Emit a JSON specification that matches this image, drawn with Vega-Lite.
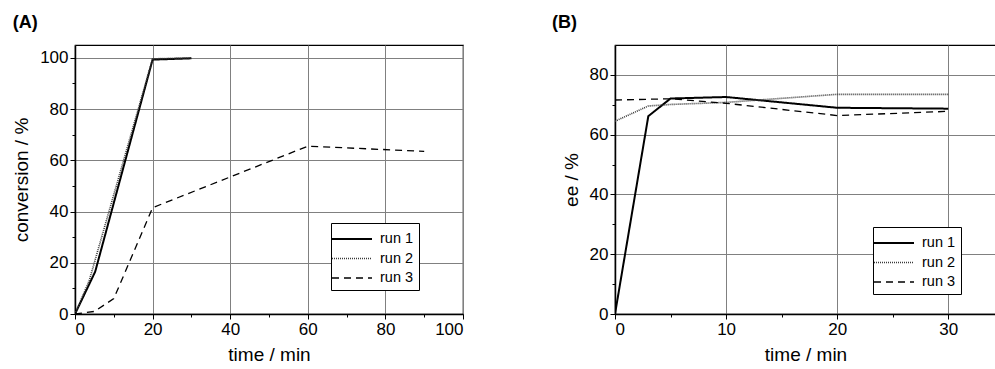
{
  "$schema": "https://vega.github.io/schema/vega-lite/v6.json",
  "padding": {"left": 12, "top": 13, "right": 0, "bottom": 0},
  "background": "white",
  "datasets": {
    "conv": [
      {"time": 0, "value": 0, "run": "run 1"},
      {"time": 5.2, "value": 16.5, "run": "run 1"},
      {"time": 20, "value": 99.3, "run": "run 1"},
      {"time": 30, "value": 99.8, "run": "run 1"},
      {"time": 0, "value": 0, "run": "run 2"},
      {"time": 3.7, "value": 13.2, "run": "run 2"},
      {"time": 20, "value": 99.6, "run": "run 2"},
      {"time": 30, "value": 100, "run": "run 2"},
      {"time": 0, "value": 0, "run": "run 3"},
      {"time": 5, "value": 1, "run": "run 3"},
      {"time": 10, "value": 6, "run": "run 3"},
      {"time": 20, "value": 41.5, "run": "run 3"},
      {"time": 60, "value": 65.5, "run": "run 3"},
      {"time": 90, "value": 63.5, "run": "run 3"}
    ],
    "ee": [
      {"time": 0, "value": 0, "run": "run 1"},
      {"time": 3, "value": 66.2, "run": "run 1"},
      {"time": 5, "value": 72.1, "run": "run 1"},
      {"time": 10, "value": 72.6, "run": "run 1"},
      {"time": 20, "value": 69, "run": "run 1"},
      {"time": 30, "value": 68.7, "run": "run 1"},
      {"time": 0, "value": 64.5, "run": "run 2"},
      {"time": 3, "value": 69.6, "run": "run 2"},
      {"time": 5, "value": 70.1, "run": "run 2"},
      {"time": 10, "value": 70.8, "run": "run 2"},
      {"time": 20, "value": 73.5, "run": "run 2"},
      {"time": 30, "value": 73.5, "run": "run 2"},
      {"time": 0, "value": 71.6, "run": "run 3"},
      {"time": 5, "value": 72, "run": "run 3"},
      {"time": 10, "value": 70.5, "run": "run 3"},
      {"time": 20, "value": 66.4, "run": "run 3"},
      {"time": 30, "value": 67.8, "run": "run 3"}
    ]
  },
  "config": {
    "font": "Liberation Sans",
    "view": {"stroke": "black", "strokeWidth": 1.2},
    "axis": {
      "domainColor": "black",
      "domainWidth": 1.5,
      "tickColor": "black",
      "gridColor": "#808080",
      "gridWidth": 1,
      "labelFontSize": 17,
      "labelColor": "black",
      "titleFontSize": 19,
      "titleFontWeight": "normal",
      "titleColor": "black",
      "labelPadding": 2
    },
    "legend": {
      "orient": "none",
      "strokeColor": "black",
      "fillColor": "white",
      "padding": 5,
      "symbolType": "M-2,0H2",
      "symbolSize": 400,
      "symbolOffset": 5,
      "labelFontSize": 14.5,
      "labelColor": "black",
      "rowPadding": 1.5,
      "labelOffset": 17,
      "title": null
    },
    "title": {"fontSize": 18, "fontWeight": "bold", "anchor": "start", "frame": "bounds", "color": "black"}
  },
  "hconcat": [
    {
      "title": {"text": "(A)", "offset": 13, "dx": 0},
      "width": 388,
      "height": 269,
      "data": {"name": "conv"},
      "mark": {"type": "line", "clip": true},
      "encoding": {
        "x": {
          "field": "time", "type": "quantitative", "title": "time / min",
          "scale": {"domain": [0, 100], "nice": false},
          "axis": {
            "values": [0, 10, 20, 30, 40, 50, 60, 70, 80, 90, 100],
            "labelExpr": "datum.value % 20 == 0 ? datum.label : ''",
            "tickSize": {"condition": {"test": "datum.value % 20 == 0", "value": 5}, "value": 3},
            "gridOpacity": {"condition": {"test": "datum.value % 20 == 0", "value": 1}, "value": 0},
            "titlePadding": 8
          }
        },
        "y": {
          "field": "value", "type": "quantitative", "title": "conversion / %",
          "scale": {"domain": [0, 105], "nice": false},
          "axis": {
            "values": [0, 10, 20, 30, 40, 50, 60, 70, 80, 90, 100],
            "labelExpr": "datum.value % 20 == 0 ? datum.label : ''",
            "tickSize": {"condition": {"test": "datum.value % 20 == 0", "value": 5}, "value": 3},
            "gridOpacity": {"condition": {"test": "datum.value % 20 == 0", "value": 1}, "value": 0},
            "titlePadding": 8
          }
        },
        "color": {
          "field": "run", "type": "nominal",
          "scale": {"domain": ["run 1", "run 2", "run 3"], "range": ["black", "#3a3a3a", "black"]},
          "legend": {"legendX": 256, "legendY": 178}
        },
        "strokeDash": {
          "field": "run", "type": "nominal",
          "scale": {"domain": ["run 1", "run 2", "run 3"], "range": [[1, 0], [1, 1], [7, 5]]},
          "legend": {"legendX": 256, "legendY": 178}
        },
        "strokeWidth": {
          "field": "run", "type": "nominal",
          "scale": {"domain": ["run 1", "run 2", "run 3"], "range": [2, 1.3, 1.8]},
          "legend": {"legendX": 256, "legendY": 178}
        }
      }
    },
    {
      "title": {"text": "(B)", "offset": 13, "dx": -10},
      "width": 381,
      "height": 269,
      "data": {"name": "ee"},
      "mark": {"type": "line", "clip": true},
      "encoding": {
        "x": {
          "field": "time", "type": "quantitative", "title": "time / min",
          "scale": {"domain": [0, 34.3], "nice": false},
          "axis": {
            "values": [0, 5, 10, 15, 20, 25, 30],
            "labelExpr": "datum.value % 10 == 0 ? datum.label : ''",
            "tickSize": {"condition": {"test": "datum.value % 10 == 0", "value": 5}, "value": 3},
            "gridOpacity": {"condition": {"test": "datum.value % 10 == 0", "value": 1}, "value": 0},
            "titlePadding": 8
          }
        },
        "y": {
          "field": "value", "type": "quantitative", "title": "ee / %",
          "scale": {"domain": [0, 90], "nice": false},
          "axis": {
            "values": [0, 10, 20, 30, 40, 50, 60, 70, 80],
            "labelExpr": "datum.value % 20 == 0 ? datum.label : ''",
            "tickSize": {"condition": {"test": "datum.value % 20 == 0", "value": 5}, "value": 3},
            "gridOpacity": {"condition": {"test": "datum.value % 20 == 0", "value": 1}, "value": 0},
            "titlePadding": 8
          }
        },
        "color": {
          "field": "run", "type": "nominal",
          "scale": {"domain": ["run 1", "run 2", "run 3"], "range": ["black", "#3a3a3a", "black"]},
          "legend": {"legendX": 258, "legendY": 182}
        },
        "strokeDash": {
          "field": "run", "type": "nominal",
          "scale": {"domain": ["run 1", "run 2", "run 3"], "range": [[1, 0], [1, 1], [7, 5]]},
          "legend": {"legendX": 258, "legendY": 182}
        },
        "strokeWidth": {
          "field": "run", "type": "nominal",
          "scale": {"domain": ["run 1", "run 2", "run 3"], "range": [2, 1.3, 1.8]},
          "legend": {"legendX": 258, "legendY": 182}
        }
      }
    }
  ],
  "spacing": 86,
  "resolve": {
    "scale": {"x": "independent", "y": "independent", "color": "independent", "strokeDash": "independent", "strokeWidth": "independent"},
    "legend": {"color": "independent", "strokeDash": "independent", "strokeWidth": "independent"}
  }
}
